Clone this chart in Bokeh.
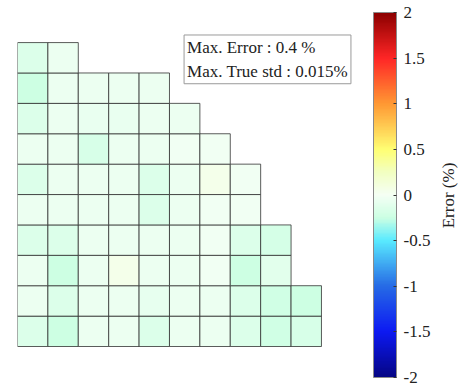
import math
import numpy as np
from bokeh.plotting import figure
from bokeh.layouts import row
from bokeh.models import ColumnDataSource, LinearColorMapper, ColorBar, FixedTicker, Label
from bokeh.core.properties import value
from bokeh.embed import file_html
from bokeh.resources import INLINE

# Error (%) per cell, rows listed from bottom (row 1) to top (row 10)
row1 = [-0.15, -0.25, -0.05, -0.05, -0.15, -0.05, -0.05, -0.15, -0.22, -0.18]
row2 = [-0.05, -0.15, -0.05, -0.05, -0.08, -0.05, -0.05, -0.15, -0.22, -0.25]
row3 = [-0.05, -0.25, -0.05, 0.06, -0.05, -0.05, -0.03, -0.25, -0.12]
row4 = [-0.15, -0.15, -0.05, -0.05, -0.05, -0.05, -0.03, -0.15, -0.20]
row5 = [-0.05, -0.05, -0.05, -0.05, -0.15, -0.05, -0.03, -0.03]
row6 = [-0.15, -0.05, -0.05, -0.05, -0.15, -0.05, 0.05, -0.03]
row7 = [-0.05, -0.05, -0.18, -0.05, -0.05, -0.03, -0.03]
row8 = [-0.15, -0.05, -0.07, -0.07, -0.05, -0.05]
row9 = [-0.25, -0.05, -0.05, -0.05, -0.05]
row10 = [-0.15, -0.05]
rows = [row1, row2, row3, row4, row5, row6, row7, row8, row9, row10]

cb_ticks = [-2, -1.5, -1, -0.5, 0, 0.5, 1, 1.5, 2]
cb_labels = ["-2", "-1.5", "-1", "-0.5", "0", "0.5", "1", "1.5", "2"]
box_text = "Max. Error : 0.4 %\nMax. True std : 0.015%"
cb_title = "Error (%)"

xs, ys, vs = [], [], []
for r, vals in enumerate(rows, start=1):
    for c, v in enumerate(vals, start=1):
        xs.append(c)
        ys.append(r)
        vs.append(v)
src = ColumnDataSource(dict(x=xs, y=ys, v=vs))

# custom jet-like palette with a white centre
anchor_v = [-2.0, -1.5, -1.0, -0.5, -0.25, 0.0, 0.25, 0.5, 1.0, 1.5, 2.0]
anchor_c = [(0.02, 0.02, 0.52), (0.05, 0.1, 0.95), (0.15, 0.42, 0.9), (0.35, 0.92, 1.0),
            (0.80, 1.0, 0.89), (0.96, 1.0, 0.96), (0.95, 1.0, 0.76), (1.0, 1.0, 0.45),
            (1.0, 0.6, 0.2), (1.0, 0.15, 0.15), (0.55, 0.0, 0.0)]
grid = np.linspace(-2, 2, 256)
chan = np.array(anchor_c)
palette = []
for g in grid:
    rgb = [np.interp(g, anchor_v, chan[:, k]) for k in range(3)]
    palette.append("#%02x%02x%02x" % tuple(int(round(255 * q)) for q in rgb))

mapper = LinearColorMapper(palette=palette, low=-2, high=2)

p = figure(frame_width=345, frame_height=365, x_range=(0.5, 11.85), y_range=(-0.52, 11.49),
           min_border_left=17, min_border_top=12, min_border_bottom=8, min_border_right=70,
           x_axis_location=None, y_axis_location=None,
           output_backend="svg", toolbar_location=None)
p.grid.visible = False
p.outline_line_color = None

p.rect(x="x", y="y", width=1, height=1, source=src,
       fill_color={"field": "v", "transform": mapper},
       line_color="#333333", line_alpha=0.8, line_width=1)

cb = ColorBar(color_mapper=mapper, ticker=FixedTicker(ticks=cb_ticks),
              major_label_overrides={t: l for t, l in zip(cb_ticks, cb_labels)},
              width=23, height=365, padding=0, margin=0, location=(11, 0), label_standoff=7,
              major_tick_in=3, major_tick_out=0, major_tick_line_color="#333333",
              minor_tick_line_color=None,
              bar_line_color="#8a8a8a", border_line_color=None, background_fill_color=None,
              major_label_text_font="Liberation Serif", major_label_text_font_size="17px",
              major_label_text_color="#222222")
p.add_layout(cb, "right")

box = Label(x=5.98, y=10.75, text=box_text, text_align="left", text_baseline="top",
            text_font="Liberation Serif", text_font_size="17px", text_color="#222222",
            text_line_height=1.25,
            border_line_color="#9a9a9a", background_fill_color="white", padding=3)
p.add_layout(box)

# narrow side figure carrying the rotated colour-bar title
p2 = figure(width=26, height=385, x_range=(0, 26), y_range=(0, 385),
            min_border=0, x_axis_location=None, y_axis_location=None,
            output_backend="svg", toolbar_location=None)
p2.grid.visible = False
p2.outline_line_color = None
p2.text(x=[15], y=[192], text=[cb_title], angle=math.pi / 2, text_align="center",
        text_baseline="middle", text_font=value("Liberation Serif"), text_font_size="17px",
        text_color="#222222")

layout = row(p, p2, spacing=0)
open("out.html", "w").write(file_html(layout, INLINE))
